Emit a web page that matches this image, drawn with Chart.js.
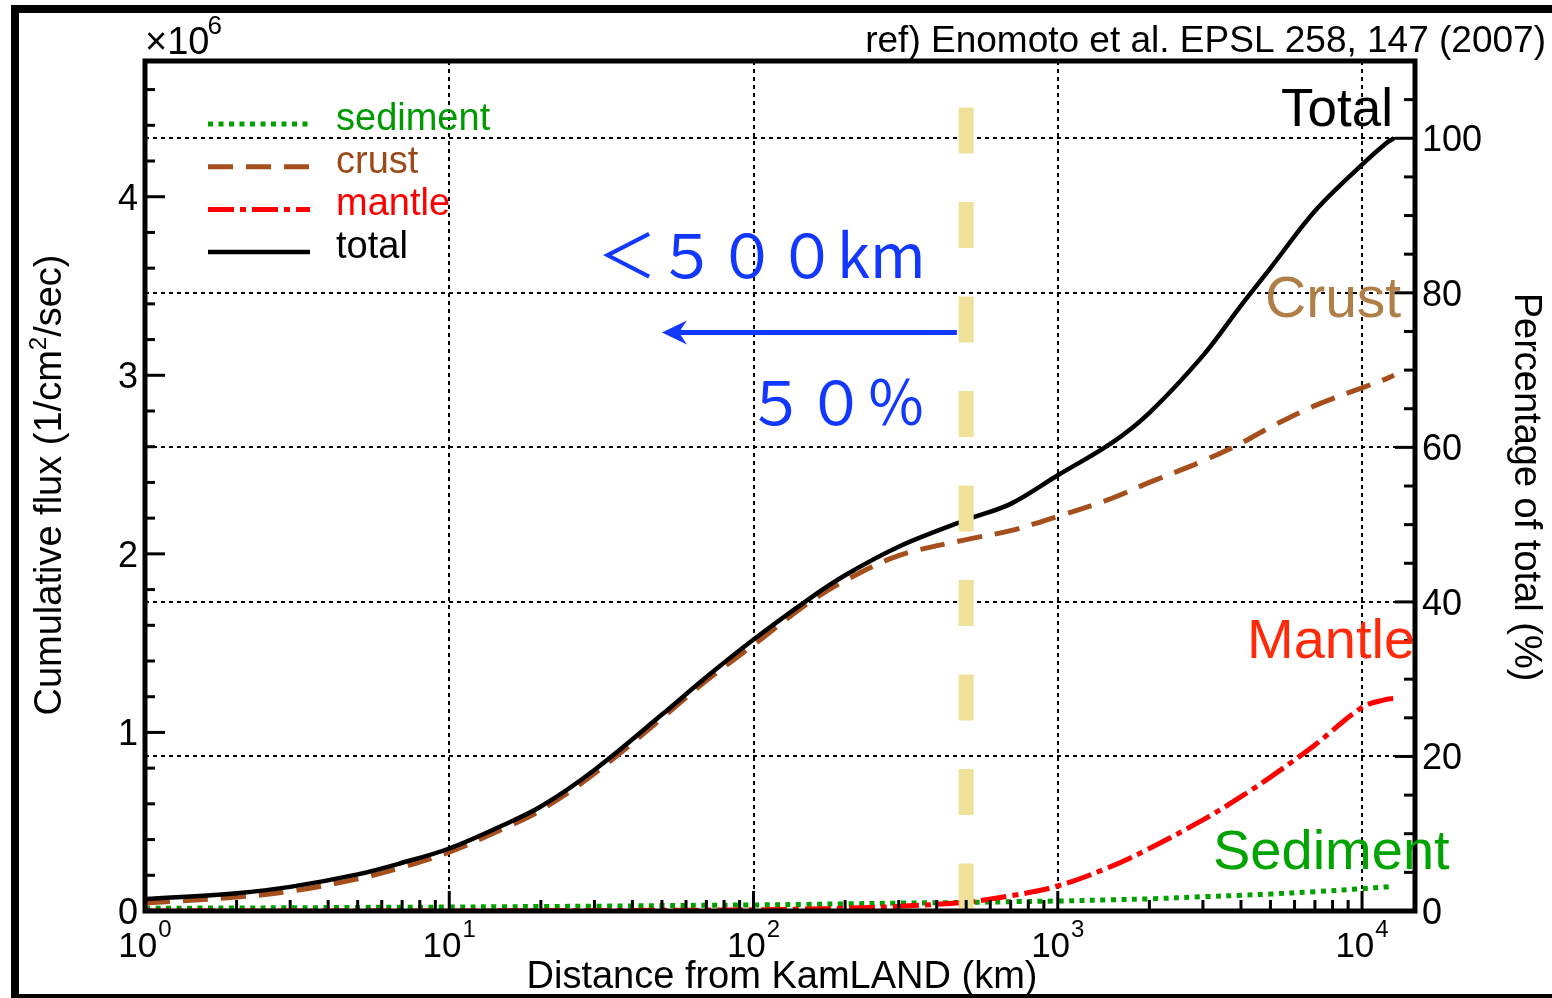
<!DOCTYPE html>
<html><head><meta charset="utf-8">
<script src="https://cdn.jsdelivr.net/npm/chart.js@4/dist/chart.umd.min.js"></script>
<style>html,body{margin:0;padding:0;background:#fff;}canvas{display:block;}</style>
</head><body>
<canvas id="c" width="1552" height="998"></canvas>
<script>
// ---- data (x10^6 /cm^2/sec, cumulative) ----
const distanceKm = [1, 2, 3, 5, 7, 10, 15, 20, 30, 50, 70, 100, 150, 200, 300, 500, 700, 1000, 1500, 2000, 3000, 4000, 5000, 7000, 10000, 12000, 12742];
const sedimentFlux = [0.015, 0.017, 0.018, 0.020, 0.021, 0.022, 0.024, 0.025, 0.027, 0.030, 0.032, 0.034, 0.037, 0.040, 0.044, 0.048, 0.052, 0.056, 0.063, 0.068, 0.080, 0.088, 0.095, 0.108, 0.125, 0.135, 0.140];
const crustFlux = [0.045, 0.078, 0.11, 0.18, 0.245, 0.33, 0.46, 0.565, 0.77, 1.08, 1.29, 1.49, 1.72, 1.85, 1.99, 2.08, 2.13, 2.21, 2.31, 2.40, 2.52, 2.62, 2.71, 2.83, 2.93, 2.98, 3.00];
const mantleFlux = [0, 0, 0, 0, 0, 0, 0.001, 0.002, 0.003, 0.004, 0.005, 0.007, 0.011, 0.016, 0.026, 0.05, 0.085, 0.14, 0.25, 0.35, 0.51, 0.64, 0.75, 0.93, 1.14, 1.185, 1.19];
const totalFlux = [0.067, 0.10, 0.135, 0.205, 0.27, 0.35, 0.48, 0.585, 0.79, 1.10, 1.31, 1.52, 1.74, 1.88, 2.04, 2.19, 2.28, 2.44, 2.62, 2.79, 3.11, 3.39, 3.60, 3.92, 4.18, 4.30, 4.328];

const seriesNames = ['sediment', 'crust', 'mantle', 'total'];
const leftTicks = [0, 1, 2, 3, 4];
const rightTicks = [0, 20, 40, 60, 80, 100];
const decadeTicks = [1, 10, 100, 1000, 10000];
const decadeExp = ['0', '1', '2', '3', '4'];
const cutoffKm = 500;

const X_MAX = 14930, Y_MAX = 4.76, PCT_MAX = 110;
const FONT = '"Liberation Sans", Arial, Helvetica, sans-serif';
const CJK = '"Noto Sans CJK JP", "Noto Sans CJK SC", sans-serif';

const styles = [
  { color: '#00a000', dash: [5, 5.5], width: 5, text: '#009900' },
  { color: '#a64f1c', dash: [25, 13], width: 5, text: '#9c4a1a' },
  { color: '#ff0000', dash: [26, 6, 6, 6], width: 5, text: '#ff0000' },
  { color: '#000000', dash: [], width: 4.5, text: '#000000' }
];
const seriesValues = [sedimentFlux, crustFlux, mantleFlux, totalFlux];
const orders = [3, 2, 1, 0];

const datasets = seriesNames.map((n, i) => ({
  label: n,
  data: distanceKm.map((d, k) => ({ x: d, y: seriesValues[i][k] })),
  borderColor: styles[i].color,
  borderDash: styles[i].dash,
  borderWidth: styles[i].width,
  pointRadius: 0,
  fill: false,
  tension: 0.35,
  borderCapStyle: 'butt',
  order: orders[i]
}));

function txt(ctx, s, x, y, size, color, align, font) {
  ctx.font = size + 'px ' + (font || FONT);
  ctx.fillStyle = color;
  ctx.textAlign = align || 'left';
  ctx.textBaseline = 'alphabetic';
  ctx.fillText(s, x, y);
}
function line(ctx, x1, y1, x2, y2) { ctx.beginPath(); ctx.moveTo(x1, y1); ctx.lineTo(x2, y2); ctx.stroke(); }

const decor = {
  id: 'decor',
  beforeDatasetsDraw(chart) {
    const { ctx, chartArea: a, scales } = chart;
    ctx.save();
    ctx.strokeStyle = '#000'; ctx.lineWidth = 2; ctx.setLineDash([4, 4]);
    decadeTicks.slice(1).forEach(v => { const x = Math.round(scales.x.getPixelForValue(v)); line(ctx, x, a.top, x, a.bottom); });
    rightTicks.slice(1).forEach(p => { const y = Math.round(scales.y2.getPixelForValue(p)); line(ctx, a.left, y, a.right, y); });
    ctx.restore();
  },
  afterDatasetsDraw(chart) {
    const { ctx, chartArea: a, scales } = chart;
    const xs = scales.x, ys = scales.y, y2 = scales.y2;
    ctx.save();
    // yellow 500 km marker
    const xc = xs.getPixelForValue(cutoffKm);
    ctx.strokeStyle = '#f0e19a'; ctx.lineWidth = 15; ctx.setLineDash([46, 48.5]);
    line(ctx, xc, ys.getPixelForValue(4.5), xc, a.bottom);
    ctx.setLineDash([]);
    // blue arrow
    const ay = ys.getPixelForValue(3.24);
    const ax1 = xs.getPixelForValue(466), ax2 = xs.getPixelForValue(50);
    ctx.strokeStyle = '#1238ff'; ctx.fillStyle = '#1238ff'; ctx.lineWidth = 5;
    line(ctx, ax1, ay, ax2 + 12, ay);
    ctx.beginPath();
    ctx.moveTo(ax2, ay); ctx.lineTo(ax2 + 25, ay - 12); ctx.lineTo(ax2 + 17, ay); ctx.lineTo(ax2 + 25, ay + 12); ctx.closePath(); ctx.fill();
    // ticks
    ctx.strokeStyle = '#000'; ctx.lineWidth = 3;
    for (let e = 0; e <= 4; e++) for (let m = 1; m <= 9; m++) {
      const v = m * Math.pow(10, e); if (v > X_MAX) break;
      const x = xs.getPixelForValue(v);
      line(ctx, x, a.bottom, x, a.bottom - (m === 1 ? 20 : 11));
    }
    for (let k = 0; k <= 23; k++) {
      const v = k * 0.2; if (v > Y_MAX) break;
      const y = ys.getPixelForValue(v);
      line(ctx, a.left, y, a.left + (k % 5 === 0 ? 20 : 10), y);
    }
    for (let p = 0; p <= PCT_MAX; p += 5) {
      const y = y2.getPixelForValue(p);
      line(ctx, a.right, y, a.right - (p % 20 === 0 ? 20 : 11), y);
    }
    // frame
    ctx.lineWidth = 5;
    ctx.strokeRect(a.left, a.top, a.right - a.left, a.bottom - a.top);
    ctx.restore();
  },
  afterDraw(chart) {
    const { ctx, chartArea: a, scales } = chart;
    const xs = scales.x, ys = scales.y, y2 = scales.y2;
    ctx.save();
    // outer frame
    ctx.fillStyle = '#000';
    ctx.fillRect(11, 5, 8, 993);
    ctx.fillRect(11, 5, 1541, 8);
    ctx.fillRect(11, 994, 1541, 4);
    // x tick labels
    decadeTicks.forEach((v, i) => {
      const x = xs.getPixelForValue(v);
      ctx.font = '35px ' + FONT; const w1 = ctx.measureText('10').width;
      ctx.font = '24px ' + FONT; const w2 = ctx.measureText(decadeExp[i]).width;
      const s = x - (w1 + w2 + 1) / 2;
      txt(ctx, '10', s, 957, 35, '#000');
      txt(ctx, decadeExp[i], s + w1 + 1, 937, 24, '#000');
    });
    // left tick labels
    leftTicks.forEach(v => txt(ctx, String(v), 138, ys.getPixelForValue(v) + 13, 36, '#000', 'right'));
    // right tick labels
    rightTicks.forEach(p => txt(ctx, String(p), 1422, y2.getPixelForValue(p) + 13, 36, '#000', 'left'));
    // x10^6
    txt(ctx, '\u00d710', 145, 54, 38, '#000');
    ctx.font = '38px ' + FONT;
    const wx = ctx.measureText('\u00d710').width;
    txt(ctx, '6', 145 + wx - 2, 34, 26, '#000');
    // reference
    txt(ctx, 'ref) Enomoto et al. EPSL 258, 147 (2007)', 1546, 52, 37, '#000', 'right');
    // x title
    txt(ctx, 'Distance from KamLAND (km)', 782, 988, 38, '#000', 'center');
    // y title (rotated)
    ctx.save();
    ctx.translate(61, 485); ctx.rotate(-Math.PI / 2);
    const p1 = 'Cumulative flux (1/cm', p2 = '2', p3 = '/sec)';
    ctx.font = '38px ' + FONT; const w1 = ctx.measureText(p1).width, w3 = ctx.measureText(p3).width;
    ctx.font = '24px ' + FONT; const w2 = ctx.measureText(p2).width;
    let sx = -(w1 + w2 + w3) / 2;
    txt(ctx, p1, sx, 0, 38, '#000'); sx += w1;
    txt(ctx, p2, sx, -15, 24, '#000'); sx += w2;
    txt(ctx, p3, sx, 0, 38, '#000');
    ctx.restore();
    // right title
    ctx.save();
    ctx.translate(1515, 487); ctx.rotate(Math.PI / 2);
    txt(ctx, 'Percentage of total (%)', 0, 0, 38, '#000', 'center');
    ctx.restore();
    // legend
    chart.data.datasets.forEach((ds, i) => {
      const base = 130 + i * 42.7, ly = base - 6;
      ctx.strokeStyle = ds.borderColor; ctx.lineWidth = ds.borderWidth; ctx.setLineDash(ds.borderDash); ctx.lineCap = 'butt';
      line(ctx, 208, ly, 310, ly);
      ctx.setLineDash([]);
      txt(ctx, ds.label, 336, base, 38, styles[i].text);
    });
    // curve annotations
    txt(ctx, 'Total', 1393, 126, 53, '#000', 'right');
    txt(ctx, 'Crust', 1265, 317, 57, '#b07f48');
    txt(ctx, 'Mantle', 1247, 658, 56, '#ff2a0a');
    txt(ctx, 'Sediment', 1213, 869, 56, '#00a300');
    // blue annotation text
    txt(ctx, '\uff1c\uff15\uff10\uff10km', 597, 278, 60, '#1238ff', 'left', CJK);
    txt(ctx, '\uff15\uff10\uff05', 746, 425, 60, '#1238ff', 'left', CJK);
    ctx.restore();
  }
};

new Chart(document.getElementById('c'), {
  type: 'line',
  data: { datasets },
  options: {
    responsive: false, animation: false, devicePixelRatio: 1,
    layout: { padding: { left: 145, right: 137, top: 61, bottom: 87 } },
    plugins: { legend: { display: false }, tooltip: { enabled: false } },
    scales: {
      x: { type: 'logarithmic', min: 1, max: X_MAX, display: false },
      y: { type: 'linear', min: 0, max: Y_MAX, display: false },
      y2: { type: 'linear', min: 0, max: PCT_MAX, display: false, position: 'right' }
    },
    elements: { point: { radius: 0 } }
  },
  plugins: [decor]
});
</script>
</body></html>
